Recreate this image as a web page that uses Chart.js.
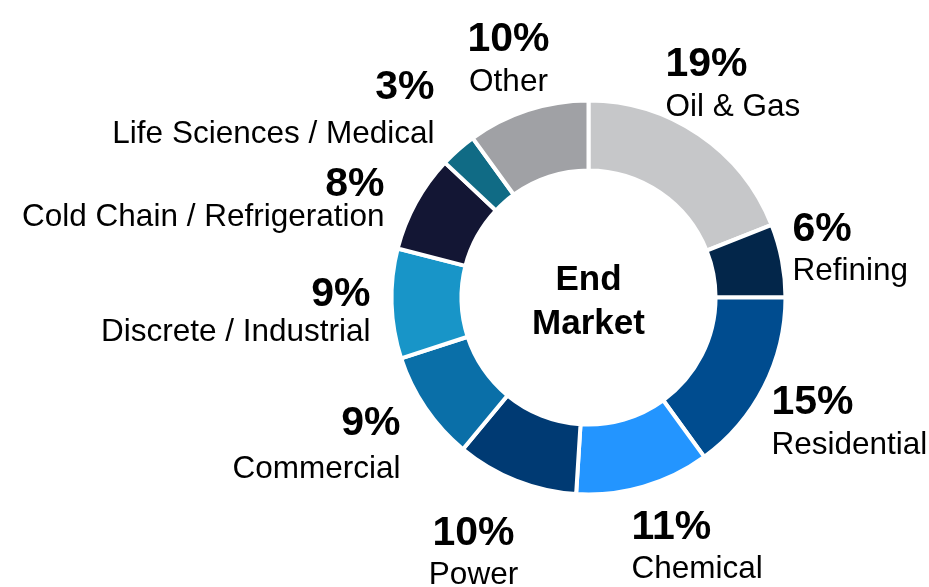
<!DOCTYPE html>
<html>
<head>
<meta charset="utf-8">
<script src="https://cdn.jsdelivr.net/npm/chart.js@4"></script>
<style>
  html, body { margin: 0; padding: 0; background: #ffffff; }
  #wrap { width: 929px; height: 587px; position: relative; }
</style>
</head>
<body>
<div id="wrap"><canvas id="grafico"></canvas></div>
<script>
// datos del grafico
const mercados = ["Oil & Gas", "Refining", "Residential", "Chemical", "Power",
  "Commercial", "Discrete / Industrial", "Cold Chain / Refrigeration",
  "Life Sciences / Medical", "Other"]
const porcentajes = [19, 6, 15, 11, 10, 9, 9, 8, 3, 10]
const colores = ["#c6c7c9", "#03264a", "#004c8f", "#2395ff", "#003a73",
  "#0a6fa8", "#1895c8", "#131634", "#106b85", "#a0a1a5"]
const tituloCentro = ["End", "Market"]

// donde va cada etiqueta respecto al centro del anillo: [dx, base %, base nombre, alineacion]
const posEtiquetas = [
  [77, -222, -182, "left"],
  [204, -57, -18, "left"],
  [183, 116, 156, "left"],
  [43, 241, 280, "left"],
  [-115, 247, 286, "center"],
  [-188, 137, 180, "right"],
  [-218, 8, 43, "right"],
  [-204, -102, -72, "right"],
  [-154, -199, -155, "right"],
  [-80, -247, -207, "center"]
]

const fuente = "'Liberation Sans', Arial, sans-serif"

const etiquetasPlugin = {
  id: "etiquetas",
  afterDraw: (chart) => {
    const ctx = chart.ctx
    const arco = chart.getDatasetMeta(0).data[0]
    const cx = arco.x
    const cy = arco.y
    ctx.save()
    ctx.fillStyle = "#000000"
    ctx.textBaseline = "alphabetic"

    // texto del centro
    ctx.textAlign = "center"
    ctx.font = "bold 35px " + fuente
    ctx.fillText(tituloCentro[0], cx, cy - 8)
    ctx.fillText(tituloCentro[1], cx, cy + 36)

    porcentajes.forEach((valor, i) => {
      const p = posEtiquetas[i]
      ctx.textAlign = p[3]
      ctx.font = "bold 41px " + fuente
      ctx.fillText(valor + "%", cx + p[0], cy + p[1])
      ctx.font = "31.5px " + fuente
      ctx.fillText(mercados[i], cx + p[0], cy + p[2])
    })
    ctx.restore()
  }
}

const config = {
  type: "doughnut",
  data: {
    labels: mercados,
    datasets: [{
      data: porcentajes,
      backgroundColor: colores,
      borderColor: "#ffffff",
      borderWidth: 4
    }]
  },
  options: {
    responsive: true,
    maintainAspectRatio: false,
    animation: false,
    cutout: "64.5%",
    layout: {
      padding: { left: 389.5, top: 98.5, right: 141.5, bottom: 90.5 }
    },
    plugins: {
      legend: { display: false },
      tooltip: { enabled: false }
    }
  },
  plugins: [etiquetasPlugin]
}

const grafico = new Chart(document.getElementById("grafico"), config)
</script>
</body>
</html>
